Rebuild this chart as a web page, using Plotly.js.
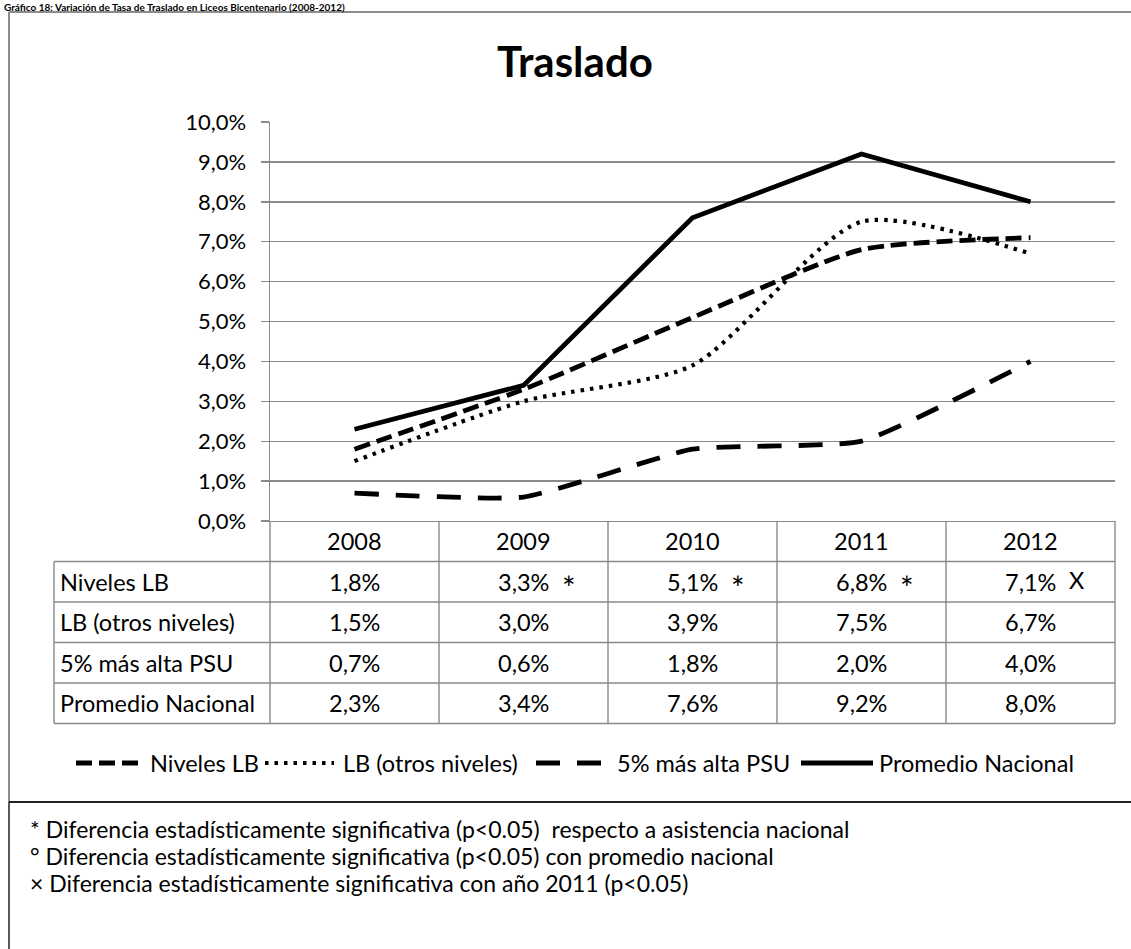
<!DOCTYPE html>
<html>
<head>
<meta charset="utf-8">
<script src="https://cdn.plot.ly/plotly-3.0.1.min.js"></script>
<style>
  html, body { margin: 0; padding: 0; background: #ffffff; }
  #chart { width: 1131px; height: 949px; }
</style>
</head>
<body>
<div id="chart"></div>
<script>
// ---------------- DATA ----------------
const caption = 'Gráfico 18: Variación de Tasa de Traslado en Liceos Bicentenario (2008-2012)';
const chartTitle = 'Traslado';
const years = ['2008', '2009', '2010', '2011', '2012'];
const seriesNames = ['Niveles LB', 'LB (otros niveles)', '5% más alta PSU', 'Promedio Nacional'];
const nivelesLB = [1.8, 3.3, 5.1, 6.8, 7.1];
const lbOtrosNiveles = [1.5, 3.0, 3.9, 7.5, 6.7];
const psuTop5 = [0.7, 0.6, 1.8, 2.0, 4.0];
const promedioNacional = [2.3, 3.4, 7.6, 9.2, 8.0];
const nivelesLBMarks = ['', '*', '*', '*', 'X'];
const yTickValues = [0, 1, 2, 3, 4, 5, 6, 7, 8, 9, 10];
const notes = [
  '* Diferencia estadísticamente significativa (p<0.05)  respecto a asistencia nacional',
  '° Diferencia estadísticamente significativa (p<0.05) con promedio nacional',
  '× Diferencia estadísticamente significativa con año 2011 (p<0.05)'
];

// ---------------- LAYOUT GEOMETRY ----------------
const W = 1131, H = 949;
const L = 270, R = 1115, T = 122, B = 521;
const PW = R - L, PH = B - T;
const px = x => (x - L) / PW;
const py = y => (B - y) / PH;

const FONT = 'Lato, "Open Sans", sans-serif';
const GRID = '#8a8a8a';

const seriesValues = [nivelesLB, lbOtrosNiveles, psuTop5, promedioNacional];
const seriesStyle = [
  { dash: '16px,7px', width: 4.8, shape: 'spline', smoothing: 0.6 },
  { dash: '3.5px,6px', width: 4.2, shape: 'spline', smoothing: 0.7 },
  { dash: '24px,17px', width: 4.8, shape: 'spline', smoothing: 0.45 },
  { dash: 'solid', width: 4.8, shape: 'linear', smoothing: 0 }
];

const fmt = v => v.toFixed(1).replace('.', ',') + '%';

const traces = seriesValues.map((vals, i) => ({
  type: 'scatter',
  mode: 'lines',
  name: seriesNames[i],
  x: years,
  y: vals,
  showlegend: false,
  hoverinfo: 'skip',
  line: {
    color: '#000000',
    width: seriesStyle[i].width,
    dash: seriesStyle[i].dash,
    shape: seriesStyle[i].shape,
    smoothing: seriesStyle[i].smoothing
  }
}));

const shapes = [];
const annotations = [];
const lineGray = { color: GRID, width: 1.4 };

// outer frame
shapes.push({ type: 'line', xref: 'paper', yref: 'paper', x0: px(9), x1: px(1140), y0: py(12), y1: py(12), line: { color: '#8c8c8c', width: 2 } });
shapes.push({ type: 'line', xref: 'paper', yref: 'paper', x0: px(9), x1: px(9), y0: py(12), y1: py(802), line: { color: '#8c8c8c', width: 2 } });
shapes.push({ type: 'line', xref: 'paper', yref: 'paper', x0: px(9), x1: px(1140), y0: py(802), y1: py(802), line: { color: '#222222', width: 2 } });
shapes.push({ type: 'line', xref: 'paper', yref: 'paper', x0: px(9), x1: px(9), y0: py(802), y1: py(960), line: { color: '#222222', width: 1.5 } });

// data table geometry
const rowTops = [521, 561.5, 602, 642.5, 683, 723.5];
const tableLeft = 54;
const nCols = years.length;
for (let i = 0; i <= nCols; i++) {
  shapes.push({ type: 'line', xref: 'paper', yref: 'paper', x0: i / nCols, x1: i / nCols, y0: py(rowTops[0]), y1: py(rowTops[rowTops.length - 1]), line: lineGray });
}
shapes.push({ type: 'line', xref: 'paper', yref: 'paper', x0: px(tableLeft), x1: px(tableLeft), y0: py(rowTops[1]), y1: py(rowTops[rowTops.length - 1]), line: lineGray });
for (let r = 1; r < rowTops.length; r++) {
  shapes.push({ type: 'line', xref: 'paper', yref: 'paper', x0: px(tableLeft), x1: 1, y0: py(rowTops[r]), y1: py(rowTops[r]), line: lineGray });
}

const cellFont = { family: FONT, size: 23.5, color: '#000000' };

// header row (years) — category index positions on the x axis
years.forEach((yr, c) => {
  annotations.push({ xref: 'x', yref: 'paper', x: c, y: py((rowTops[0] + rowTops[1]) / 2), text: yr, showarrow: false, xanchor: 'center', yanchor: 'middle', font: cellFont });
});
// rows
seriesNames.forEach((name, r) => {
  const yc = py((rowTops[r + 1] + rowTops[r + 2]) / 2);
  annotations.push({ xref: 'paper', yref: 'paper', x: px(tableLeft + 4), y: yc, text: name, showarrow: false, xanchor: 'left', yanchor: 'middle', font: cellFont });
  seriesValues[r].forEach((v, c) => {
    annotations.push({ xref: 'x', yref: 'paper', x: c, y: yc, text: fmt(v), showarrow: false, xanchor: 'center', yanchor: 'middle', font: cellFont });
    if (r === 0 && nivelesLBMarks[c]) {
      const isStar = nivelesLBMarks[c] === '*';
      annotations.push({
        xref: 'x', yref: 'paper', x: c, y: yc,
        xshift: isStar ? 45 : 46, yshift: isStar ? -6 : 2,
        text: nivelesLBMarks[c], showarrow: false, xanchor: 'center', yanchor: 'middle',
        font: isStar ? { family: FONT, size: 32, color: '#000000' } : cellFont
      });
    }
  });
});

// custom legend
const legendY = 763;
const legendItems = [
  { s0: 76, s1: 139, tx: 148 },
  { s0: 265, s1: 334, tx: 341 },
  { s0: 536, s1: 604, tx: 615 },
  { s0: 801, s1: 873, tx: 877 }
];
legendItems.forEach((it, i) => {
  shapes.push({ type: 'line', xref: 'paper', yref: 'paper', x0: px(it.s0), x1: px(it.s1), y0: py(legendY), y1: py(legendY), line: { color: '#000000', width: seriesStyle[i].width, dash: seriesStyle[i].dash } });
  annotations.push({ xref: 'paper', yref: 'paper', x: px(it.tx), y: py(legendY), text: seriesNames[i], showarrow: false, xanchor: 'left', yanchor: 'middle', font: cellFont });
});

// notes
const noteY = [829, 856, 883];
notes.forEach((t, i) => {
  annotations.push({ xref: 'paper', yref: 'paper', x: px(28), y: py(noteY[i]), text: t, showarrow: false, xanchor: 'left', yanchor: 'middle', font: { family: FONT, size: 23, color: '#000000' } });
});

// chart title
annotations.push({ xref: 'paper', yref: 'paper', x: px(575), y: py(61), text: '<b>' + chartTitle + '</b>', showarrow: false, xanchor: 'center', yanchor: 'middle', font: { family: FONT, size: 42, color: '#000000' } });
// caption at the very top (kept fully visible above the frame)
annotations.push({ xref: 'paper', yref: 'paper', x: px(2), y: py(-1), text: '<b>' + caption + '</b>', showarrow: false, xanchor: 'left', yanchor: 'top', font: { family: FONT, size: 10, color: '#000000' } });

const layout = {
  width: W, height: H,
  margin: { l: L, r: W - R, t: T, b: H - B, pad: 0 },
  paper_bgcolor: '#ffffff',
  plot_bgcolor: '#ffffff',
  separators: ',.',
  font: { family: FONT, color: '#000000' },
  xaxis: {
    type: 'category',
    categoryarray: years,
    range: [-0.5, years.length - 0.5],
    showgrid: false,
    zeroline: false,
    showline: true,
    linecolor: GRID,
    linewidth: 1.4,
    ticks: '',
    showticklabels: false,
    fixedrange: true
  },
  yaxis: {
    range: [0, 10],
    tickvals: yTickValues,
    ticktext: yTickValues.map(fmt),
    showgrid: true,
    gridcolor: GRID,
    gridwidth: 1.4,
    zeroline: false,
    showline: true,
    linecolor: GRID,
    linewidth: 1.4,
    ticks: 'outside',
    ticklen: 8,
    tickcolor: GRID,
    tickwidth: 1.4,
    ticklabelstandoff: 10,
    tickfont: { family: FONT, size: 22, color: '#000000' },
    fixedrange: true
  },
  showlegend: false,
  shapes: shapes,
  annotations: annotations
};

Plotly.newPlot('chart', traces, layout, { staticPlot: true, displayModeBar: false });
</script>
</body>
</html>
